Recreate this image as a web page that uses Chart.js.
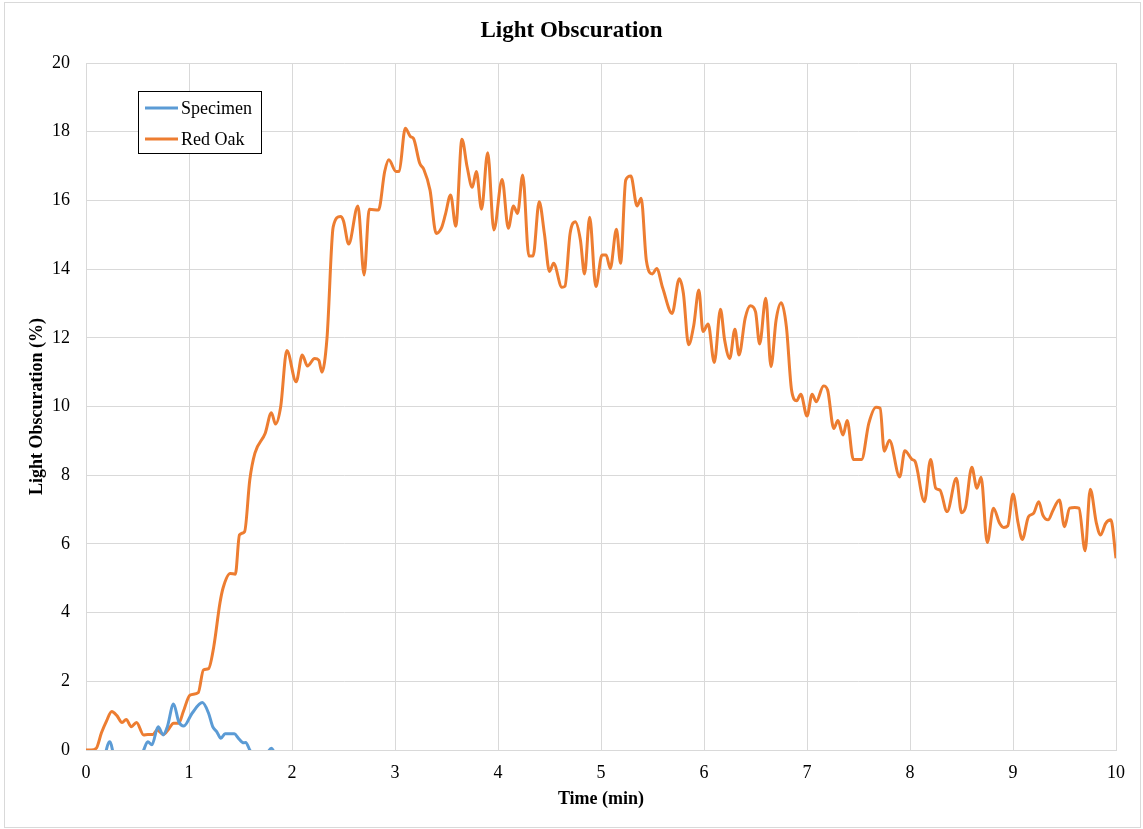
<!DOCTYPE html>
<html>
<head>
<meta charset="utf-8">
<script src="https://cdn.jsdelivr.net/npm/chart.js@4.4.1/dist/chart.umd.min.js"></script>
<style>
  html, body { margin: 0; padding: 0; background: #ffffff; }
  #wrap { position: relative; width: 1143px; height: 829px; }
</style>
</head>
<body>
<div id="wrap"><canvas id="c" width="1143" height="829"></canvas></div>
<script>
// ---- data ----
const chartTitle = "Light Obscuration";
const xAxisTitle = "Time (min)";
const yAxisTitle = "Light Obscuration (%)";
const seriesNames = ["Specimen", "Red Oak"];

const specimenTime  = [0, 0.1, 0.17, 0.23, 0.28, 0.35, 0.45, 0.52, 0.56, 0.6, 0.64, 0.7, 0.75, 0.79, 0.85, 0.9, 0.95, 1.03, 1.13, 1.19, 1.23, 1.27, 1.31, 1.35, 1.44, 1.48, 1.53, 1.55, 1.59, 1.65, 1.72, 1.8, 1.86, 1.95, 2.0];
const specimenValue = [-0.8, -0.8, -0.3, 0.24, -0.3, -0.8, -0.8, -0.3, 0, 0.24, 0.15, 0.68, 0.44, 0.68, 1.34, 0.83, 0.70, 1.07, 1.38, 1.07, 0.68, 0.53, 0.34, 0.47, 0.47, 0.34, 0.21, 0.22, 0, -0.4, -0.3, 0.05, -0.3, -0.8, -0.8];

const redOakTime = [0, 0.05, 0.1, 0.15, 0.2, 0.25, 0.3, 0.35, 0.39, 0.44, 0.49, 0.56, 0.6, 0.65, 0.69, 0.75, 0.8, 0.85, 0.9, 0.945,
  1.01, 1.09, 1.14, 1.19, 1.24, 1.3, 1.33, 1.4, 1.45, 1.49, 1.54, 1.59, 1.64, 1.74, 1.8, 1.84, 1.89, 1.95,
  2.04, 2.1, 2.15, 2.22, 2.26, 2.29, 2.34, 2.4, 2.47, 2.5, 2.55, 2.64, 2.7, 2.75, 2.84, 2.9, 2.94,
  3.01, 3.04, 3.1, 3.15, 3.18, 3.24, 3.28, 3.34, 3.4, 3.45, 3.49, 3.54, 3.59, 3.65, 3.7, 3.75, 3.79, 3.84, 3.9, 3.96,
  4.04, 4.1, 4.15, 4.19, 4.24, 4.3, 4.34, 4.4, 4.45, 4.5, 4.54, 4.62, 4.65, 4.7, 4.75, 4.8, 4.84, 4.89, 4.95,
  5.01, 5.05, 5.09, 5.15, 5.19, 5.24, 5.29, 5.35, 5.39, 5.44, 5.5, 5.54, 5.6, 5.69, 5.76, 5.8, 5.85, 5.9, 5.95, 5.99,
  6.04, 6.1, 6.16, 6.2, 6.25, 6.3, 6.34, 6.4, 6.45, 6.5, 6.54, 6.6, 6.65, 6.7, 6.75, 6.8, 6.85, 6.9, 6.94,
  7.0, 7.05, 7.09, 7.16, 7.2, 7.26, 7.3, 7.35, 7.39, 7.45, 7.53, 7.6, 7.67, 7.71, 7.75, 7.8, 7.9, 7.95,
  8.02, 8.05, 8.14, 8.2, 8.25, 8.29, 8.36, 8.45, 8.5, 8.54, 8.6, 8.65, 8.69, 8.75, 8.81, 8.87, 8.91, 8.95,
  9.0, 9.05, 9.09, 9.15, 9.2, 9.25, 9.29, 9.34, 9.39, 9.45, 9.5, 9.55, 9.6, 9.64, 9.7, 9.75, 9.81, 9.85, 9.9, 9.95, 10.0];
const redOakValue = [0, 0, 0.05, 0.5, 0.85, 1.12, 1.0, 0.8, 0.89, 0.68, 0.8, 0.44, 0.45, 0.45, 0.58, 0.45, 0.6, 0.78, 0.78, 1.12,
  1.6, 1.67, 2.33, 2.37, 3.0, 4.27, 4.71, 5.14, 5.12, 6.26, 6.36, 7.86, 8.64, 9.22, 9.82, 9.49, 9.99, 11.63,
  10.72, 11.5, 11.18, 11.4, 11.35, 11.0, 12.0, 15.23, 15.53, 15.4, 14.73, 15.84, 13.83, 15.74, 15.72, 16.84, 17.18,
  16.84, 16.85, 18.1, 17.86, 17.8, 17.08, 16.9, 16.3, 15.04, 15.19, 15.6, 16.16, 15.25, 17.78, 16.98, 16.38, 16.84, 15.74, 17.39, 15.14,
  16.61, 15.19, 15.84, 15.62, 16.74, 14.38, 14.38, 15.96, 15.04, 13.93, 14.17, 13.47, 13.5, 15.04, 15.38, 14.85, 13.86, 15.51, 13.49,
  14.41, 14.41, 14.02, 15.16, 14.17, 16.59, 16.71, 15.84, 16.06, 14.26, 13.86, 14.02, 13.44, 12.71, 13.72, 13.29, 11.8, 12.35, 13.39, 12.18,
  12.4, 11.28, 12.83, 11.94, 11.4, 12.25, 11.5, 12.57, 12.93, 12.76, 11.82, 13.15, 11.16, 12.52, 13.02, 12.32, 10.48, 10.17, 10.36,
  9.72, 10.36, 10.14, 10.6, 10.48, 9.36, 9.59, 9.17, 9.59, 8.46, 8.46, 9.51, 9.98, 9.95, 8.7, 9.02, 7.95, 8.71,
  8.46, 8.4, 7.23, 8.46, 7.62, 7.57, 6.94, 7.91, 6.91, 7.08, 8.23, 7.62, 7.94, 6.04, 7.04, 6.6, 6.48, 6.53,
  7.45, 6.6, 6.13, 6.79, 6.89, 7.23, 6.84, 6.7, 6.99, 7.28, 6.5, 7.04, 7.06, 7.04, 5.8, 7.59, 6.6, 6.26, 6.6, 6.7, 5.58];

const xTickValues = [0, 1, 2, 3, 4, 5, 6, 7, 8, 9, 10];
const yTickValues = [0, 2, 4, 6, 8, 10, 12, 14, 16, 18, 20];

// ---- styles ----
const seriesColors = ["#5B9BD5", "#ED7D31"];
const gridColor = "#d9d9d9";
const fontFamily = "'Liberation Serif', 'Times New Roman', serif";

const toPoints = (xs, ys) => xs.map((x, i) => ({ x: x, y: ys[i] }));

const frameAndLegend = {
  id: 'frameAndLegend',
  beforeDraw(chart) {
    const ctx = chart.ctx;
    ctx.save();
    ctx.fillStyle = '#ffffff';
    ctx.fillRect(0, 0, chart.width, chart.height);
    ctx.strokeStyle = gridColor;
    ctx.lineWidth = 1;
    ctx.strokeRect(4.5, 2.5, 1136, 825);
    ctx.restore();
  },
  afterDraw(chart) {
    const ctx = chart.ctx;
    const bx = 138.5, by = 91.5, bw = 123, bh = 62;
    ctx.save();
    ctx.fillStyle = '#ffffff';
    ctx.fillRect(bx, by, bw, bh);
    ctx.strokeStyle = '#000000';
    ctx.lineWidth = 1;
    ctx.strokeRect(bx, by, bw, bh);
    ctx.font = "18px " + fontFamily;
    ctx.textBaseline = 'middle';
    ctx.textAlign = 'left';
    chart.data.datasets.forEach((ds, i) => {
      const y = 108 + i * 31;
      ctx.strokeStyle = ds.borderColor;
      ctx.lineWidth = 3;
      ctx.beginPath();
      ctx.moveTo(145, y);
      ctx.lineTo(178, y);
      ctx.stroke();
      ctx.fillStyle = '#000000';
      ctx.fillText(ds.label, 181, y + 1);
    });
    ctx.restore();
  }
};

new Chart(document.getElementById('c'), {
  type: 'line',
  data: {
    datasets: [
      { label: seriesNames[0], data: toPoints(specimenTime, specimenValue), borderColor: seriesColors[0], backgroundColor: seriesColors[0],
        borderWidth: 3, pointRadius: 0, cubicInterpolationMode: 'monotone', fill: false },
      { label: seriesNames[1], data: toPoints(redOakTime, redOakValue), borderColor: seriesColors[1], backgroundColor: seriesColors[1],
        borderWidth: 3, pointRadius: 0, cubicInterpolationMode: 'monotone', fill: false }
    ]
  },
  options: {
    responsive: false,
    animation: false,
    devicePixelRatio: 1,
    layout: { padding: { left: 27, right: 27, top: 0, bottom: 0 } },
    plugins: {
      legend: { display: false },
      tooltip: { enabled: false },
      title: {
        display: true,
        text: chartTitle,
        color: '#000000',
        font: { family: fontFamily, size: 23, weight: 'bold', lineHeight: 1.2 },
        padding: { top: 17, bottom: 18.4 }
      }
    },
    scales: {
      x: {
        type: 'linear',
        min: 0, max: 10,
        afterBuildTicks(scale) { scale.ticks = xTickValues.map(v => ({ value: v })); },
        afterFit(scale) { scale.height = 79; },
        grid: { color: gridColor, drawTicks: false, lineWidth: 1 },
        border: { color: gridColor, width: 1 },
        ticks: { color: '#000000', padding: 12, font: { family: fontFamily, size: 18 }, maxRotation: 0 },
        title: { display: true, text: xAxisTitle, color: '#000000',
          font: { family: fontFamily, size: 18, weight: 'bold', lineHeight: 1.2 }, padding: { top: 0, bottom: 19 } }
      },
      y: {
        min: 0, max: 20,
        afterBuildTicks(scale) { scale.ticks = yTickValues.map(v => ({ value: v })); },
        afterFit(scale) { scale.width = 59; },
        grid: { color: gridColor, drawTicks: false, lineWidth: 1 },
        border: { color: gridColor, width: 1 },
        ticks: { color: '#000000', padding: 16, font: { family: fontFamily, size: 18 } },
        title: { display: true, text: yAxisTitle, color: '#000000',
          font: { family: fontFamily, size: 18, weight: 'bold', lineHeight: 1.2 }, padding: { top: 0, bottom: 0 } }
      }
    }
  },
  plugins: [frameAndLegend]
});
</script>
</body>
</html>
